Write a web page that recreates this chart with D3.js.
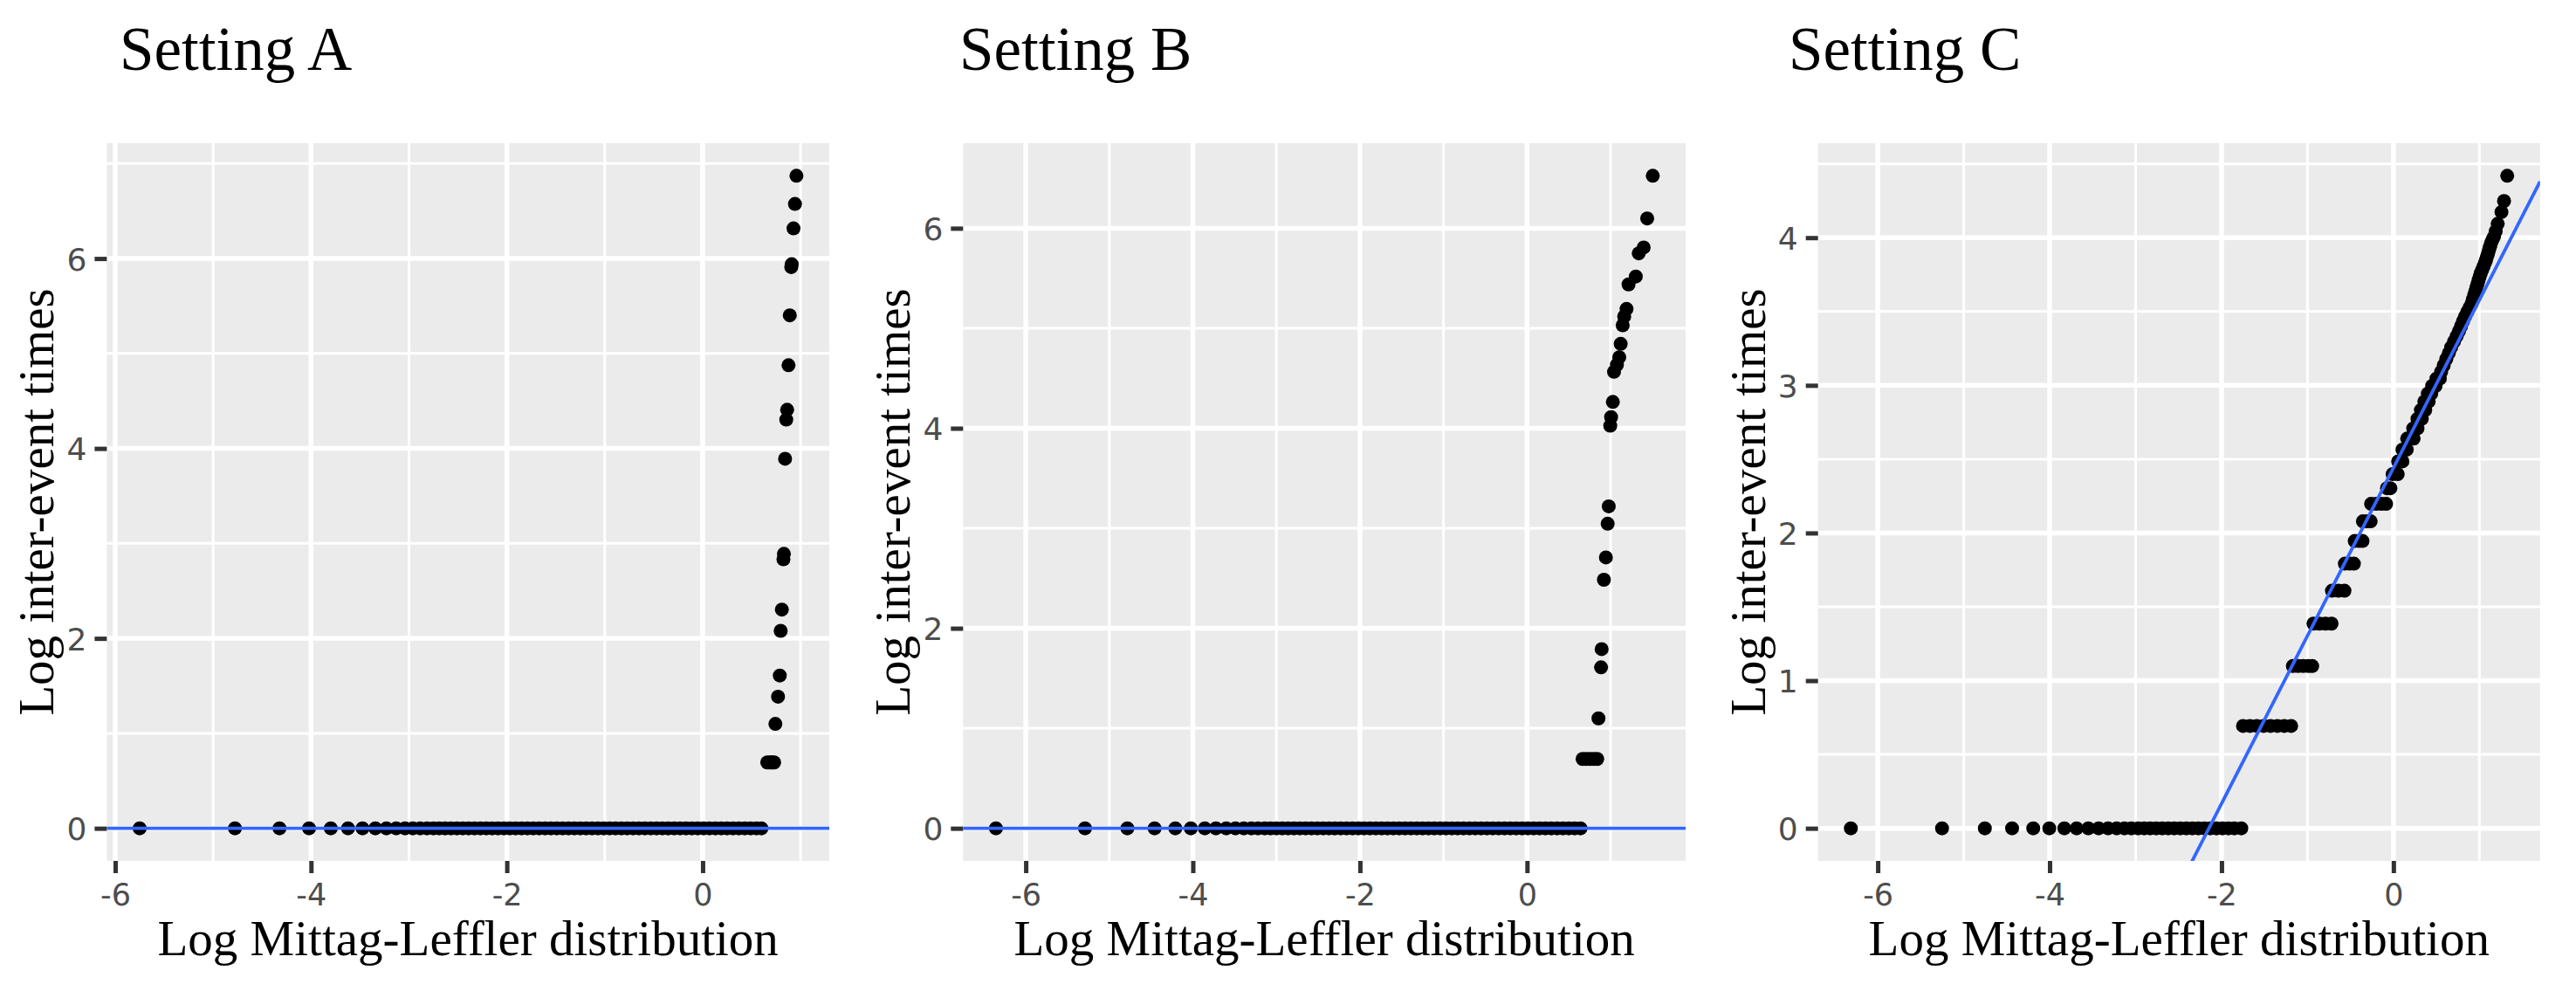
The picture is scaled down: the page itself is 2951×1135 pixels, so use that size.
<!DOCTYPE html>
<html><head><meta charset="utf-8">
<script src="https://cdn.jsdelivr.net/npm/d3@7"></script>
<style>body{margin:0;background:#fff}</style>
</head><body><svg id="c" width="2951" height="1135"></svg>
<script>
// ---------------- data ----------------
const titles = ["Setting A", "Setting B", "Setting C"];
const xLabel = "Log Mittag-Leffler distribution";
const yLabel = "Log inter-event times";
const xTickValues = [-6, -4, -2, 0];
const xMinorValues = [-7, -5, -3, -1, 1];
const yTickValuesA = [0, 2, 4, 6];
const yMinorValuesA = [1, 3, 5, 7];
const yTickValuesB = [0, 2, 4, 6];
const yMinorValuesB = [1, 3, 5, 7];
const yTickValuesC = [0, 1, 2, 3, 4];
const yMinorValuesC = [0.5, 1.5, 2.5, 3.5, 4.5];

// reference line (intercept, slope) per panel
const lineIntercept = [0, 0, 2.441];
const lineSlope = [0, 0, 1.137];

// Setting A: theoretical quantiles with sample value 0
const aZeroX = [-5.75, -4.777, -4.322, -4.02, -3.798, -3.622, -3.474, -3.343, -3.23, -3.13, -3.04, -2.96, -2.885, -2.815, -2.75, -2.69, -2.63, -2.57, -2.51, -2.45, -2.39, -2.33, -2.27, -2.21, -2.15, -2.09, -2.03, -1.97, -1.91, -1.85, -1.79, -1.73, -1.67, -1.61, -1.55, -1.49, -1.43, -1.37, -1.31, -1.25, -1.19, -1.13, -1.07, -1.01, -0.95, -0.89, -0.83, -0.77, -0.71, -0.65, -0.59, -0.53, -0.47, -0.41, -0.35, -0.29, -0.23, -0.17, -0.11, -0.05, 0.01, 0.07, 0.13, 0.19, 0.25, 0.31, 0.37, 0.43, 0.49, 0.55, 0.6];
const aTailX = [0.66, 0.68, 0.70, 0.715, 0.73, 0.743, 0.77, 0.788, 0.797, 0.809, 0.825, 0.83, 0.842, 0.854, 0.863, 0.877, 0.89, 0.905, 0.91, 0.928, 0.943, 0.958];
const aTailY = [0.693, 0.693, 0.693, 0.693, 0.693, 1.099, 1.386, 1.609, 2.079, 2.303, 2.833, 2.89, 3.891, 4.304, 4.407, 4.876, 5.402, 5.91, 5.94, 6.317, 6.575, 6.871];

// Setting B
const bZeroX = [-6.357, -5.291, -4.784, -4.458, -4.21, -4.024, -3.857, -3.724, -3.6, -3.49, -3.39, -3.3, -3.22, -3.14, -3.07, -3.0, -2.93, -2.86, -2.79, -2.72, -2.65, -2.58, -2.51, -2.44, -2.37, -2.3, -2.23, -2.16, -2.09, -2.02, -1.95, -1.88, -1.81, -1.74, -1.67, -1.6, -1.53, -1.46, -1.39, -1.32, -1.25, -1.18, -1.11, -1.04, -0.97, -0.9, -0.83, -0.76, -0.69, -0.62, -0.55, -0.48, -0.41, -0.34, -0.27, -0.2, -0.13, -0.06, 0.01, 0.08, 0.15, 0.22, 0.29, 0.36, 0.43, 0.5, 0.57, 0.64];
const bTailX = [0.665, 0.71, 0.755, 0.80, 0.84, 0.855, 0.886, 0.893, 0.92, 0.944, 0.965, 0.978, 0.996, 1.006, 1.027, 1.041, 1.076, 1.104, 1.121, 1.145, 1.163, 1.191, 1.215, 1.302, 1.337, 1.396, 1.438, 1.505];
const bTailY = [0.693, 0.693, 0.693, 0.693, 0.693, 1.099, 1.609, 1.792, 2.485, 2.708, 3.045, 3.219, 4.025, 4.111, 4.263, 4.564, 4.635, 4.71, 4.844, 5.03, 5.118, 5.193, 5.438, 5.517, 5.749, 5.808, 6.098, 6.524];

// Setting C
const cZeroX = [-6.313, -5.252, -4.754, -4.437, -4.191, -4.004, -3.829, -3.686, -3.55, -3.43, -3.32, -3.22, -3.13, -3.05, -2.97, -2.9, -2.83, -2.76, -2.69, -2.62, -2.55, -2.48, -2.41, -2.34, -2.27, -2.2, -2.13, -2.06, -1.99, -1.92, -1.85, -1.77];
const cTailX = [-1.75, -1.67, -1.59, -1.51, -1.43, -1.35, -1.27, -1.19,
  -1.17, -1.11, -1.05, -0.99, -0.945,
  -0.93, -0.86, -0.79, -0.72,
  -0.715, -0.64, -0.57,
  -0.565, -0.51, -0.46,
  -0.45, -0.40, -0.36,
  -0.355, -0.31, -0.265,
  -0.26, -0.2, -0.14, -0.085,
  -0.075, -0.035, -0.01, 0.05, 0.055, 0.105, 0.105, 0.155, 0.16, 0.235,
  0.23, 0.28, 0.28, 0.33, 0.32, 0.37, 0.36, 0.41, 0.40, 0.44, 0.45, 0.49, 0.50, 0.54,
  0.555, 0.585, 0.615, 0.645, 0.672, 0.705, 0.735, 0.763, 0.787, 0.81, 0.833, 0.86, 0.885, 0.91, 0.925, 0.94, 0.953, 0.966, 0.98, 0.992, 1.004, 1.017, 1.034, 1.05, 1.065, 1.078, 1.088, 1.1, 1.11, 1.12, 1.13, 1.14, 1.155, 1.17,
  1.19, 1.213, 1.257, 1.287, 1.324];
const cTailY = [0.693, 0.693, 0.693, 0.693, 0.693, 0.693, 0.693, 0.693,
  1.099, 1.099, 1.099, 1.099, 1.099,
  1.386, 1.386, 1.386, 1.386,
  1.609, 1.609, 1.609,
  1.792, 1.792, 1.792,
  1.946, 1.946, 1.946,
  2.079, 2.079, 2.079,
  2.197, 2.197, 2.197, 2.197,
  2.303, 2.303, 2.398, 2.398, 2.485, 2.485, 2.565, 2.565, 2.639, 2.639,
  2.708, 2.708, 2.773, 2.773, 2.833, 2.833, 2.89, 2.89, 2.944, 2.944, 2.996, 2.996, 3.045, 3.045,
  3.091, 3.135, 3.178, 3.219, 3.258, 3.296, 3.332, 3.367, 3.401, 3.434, 3.466, 3.497, 3.526, 3.555, 3.584, 3.611, 3.638, 3.664, 3.689, 3.714, 3.738, 3.761, 3.784, 3.807, 3.829, 3.85, 3.871, 3.892, 3.912, 3.932, 3.951, 3.97, 3.989, 4.007,
  4.043, 4.094, 4.174, 4.248, 4.419];

// ---------------- build ----------------
function pts(zeroX, tx, ty) {
  return zeroX.map(x => ({x, y: 0})).concat(tx.map((x, i) => ({x, y: ty[i]})));
}
const panels = [
  {title: titles[0], data: pts(aZeroX, aTailX, aTailY), yTicks: yTickValuesA, yMinor: yMinorValuesA, a: lineIntercept[0], b: lineSlope[0]},
  {title: titles[1], data: pts(bZeroX, bTailX, bTailY), yTicks: yTickValuesB, yMinor: yMinorValuesB, a: lineIntercept[1], b: lineSlope[1]},
  {title: titles[2], data: pts(cZeroX, cTailX, cTailY), yTicks: yTickValuesC, yMinor: yMinorValuesC, a: lineIntercept[2], b: lineSlope[2]}
];

// layout
const panelLeft = [122.4, 1103.3, 2082.7];
const panelRight = [950, 1931, 2909.8];
const titleX = [137, 1099, 2049];
const pTop = 164, pBottom = 986;
const serif = "'Liberation Serif', 'Times New Roman', serif";
const sans = "'DejaVu Sans', sans-serif";

const svg = d3.select("#c");
const defs = svg.append("defs");

function expand(ext) {
  const d = (ext[1] - ext[0]) * 0.05;
  return [ext[0] - d, ext[1] + d];
}

panels.forEach((p, i) => {
  const L = panelLeft[i], R = panelRight[i];
  const x = d3.scaleLinear().domain(expand(d3.extent(p.data, d => d.x))).range([L, R]);
  const y = d3.scaleLinear().domain(expand(d3.extent(p.data, d => d.y))).range([pBottom, pTop]);
  const g = svg.append("g");

  defs.append("clipPath").attr("id", "clip" + i)
    .append("rect").attr("x", L).attr("y", pTop).attr("width", R - L).attr("height", pBottom - pTop);

  // panel background
  g.append("rect").attr("x", L).attr("y", pTop).attr("width", R - L).attr("height", pBottom - pTop)
    .attr("fill", "#EBEBEB");

  const xd = x.domain(), yd = y.domain();
  const inX = v => v >= xd[0] && v <= xd[1];
  const inY = v => v >= yd[0] && v <= yd[1];

  // minor grid
  g.selectAll(".vmin").data(xMinorValues.filter(inX)).join("line")
    .attr("x1", d => x(d)).attr("x2", d => x(d)).attr("y1", pTop).attr("y2", pBottom)
    .attr("stroke", "#fff").attr("stroke-width", 3);
  g.selectAll(".hmin").data(p.yMinor.filter(inY)).join("line")
    .attr("y1", d => y(d)).attr("y2", d => y(d)).attr("x1", L).attr("x2", R)
    .attr("stroke", "#fff").attr("stroke-width", 3);
  // major grid
  g.selectAll(".vmaj").data(xTickValues.filter(inX)).join("line")
    .attr("x1", d => x(d)).attr("x2", d => x(d)).attr("y1", pTop).attr("y2", pBottom)
    .attr("stroke", "#fff").attr("stroke-width", 5.5);
  g.selectAll(".hmaj").data(p.yTicks.filter(inY)).join("line")
    .attr("y1", d => y(d)).attr("y2", d => y(d)).attr("x1", L).attr("x2", R)
    .attr("stroke", "#fff").attr("stroke-width", 5.5);

  // points
  const pg = g.append("g").attr("clip-path", `url(#clip${i})`);
  pg.selectAll("circle").data(p.data).join("circle")
    .attr("cx", d => x(d.x)).attr("cy", d => y(d.y)).attr("r", 8)
    .attr("fill", "#000");

  // reference line
  pg.append("line")
    .attr("x1", x(xd[0])).attr("y1", y(p.a + p.b * xd[0]))
    .attr("x2", x(xd[1])).attr("y2", y(p.a + p.b * xd[1]))
    .attr("stroke", "#3366FF").attr("stroke-width", 3.8);

  // axes
  const xa = g.append("g").attr("transform", `translate(0,${pBottom})`)
    .call(d3.axisBottom(x).tickValues(xTickValues).tickSize(14).tickFormat(d => String(d)));
  xa.select(".domain").remove();
  xa.selectAll(".tick line").attr("stroke", "#333333").attr("stroke-width", 5);
  xa.selectAll(".tick text").attr("y", 51).attr("dy", null)
    .attr("font-family", sans).attr("font-size", 35).attr("fill", "#4D4D4D");

  const ya = g.append("g").attr("transform", `translate(${L},0)`)
    .call(d3.axisLeft(y).tickValues(p.yTicks).tickSize(14).tickFormat(d => String(d)));
  ya.select(".domain").remove();
  ya.selectAll(".tick line").attr("stroke", "#333333").attr("stroke-width", 5);
  ya.selectAll(".tick text").attr("x", -23).attr("dy", "0.36em")
    .attr("font-family", sans).attr("font-size", 36).attr("fill", "#4D4D4D");

  // titles
  svg.append("text").attr("x", titleX[i]).attr("y", 80)
    .attr("font-family", serif).attr("font-size", 71).attr("fill", "#000")
    .text(p.title);
  svg.append("text").attr("x", (L + R) / 2).attr("y", 1094)
    .attr("text-anchor", "middle")
    .attr("font-family", serif).attr("font-size", 57).attr("fill", "#000")
    .text(xLabel);
  svg.append("text")
    .attr("transform", `translate(${L - 61},${(pTop + pBottom) / 2}) rotate(-90)`)
    .attr("text-anchor", "middle")
    .attr("font-family", serif).attr("font-size", 57).attr("fill", "#000")
    .text(yLabel);
});
</script>
</body></html>
